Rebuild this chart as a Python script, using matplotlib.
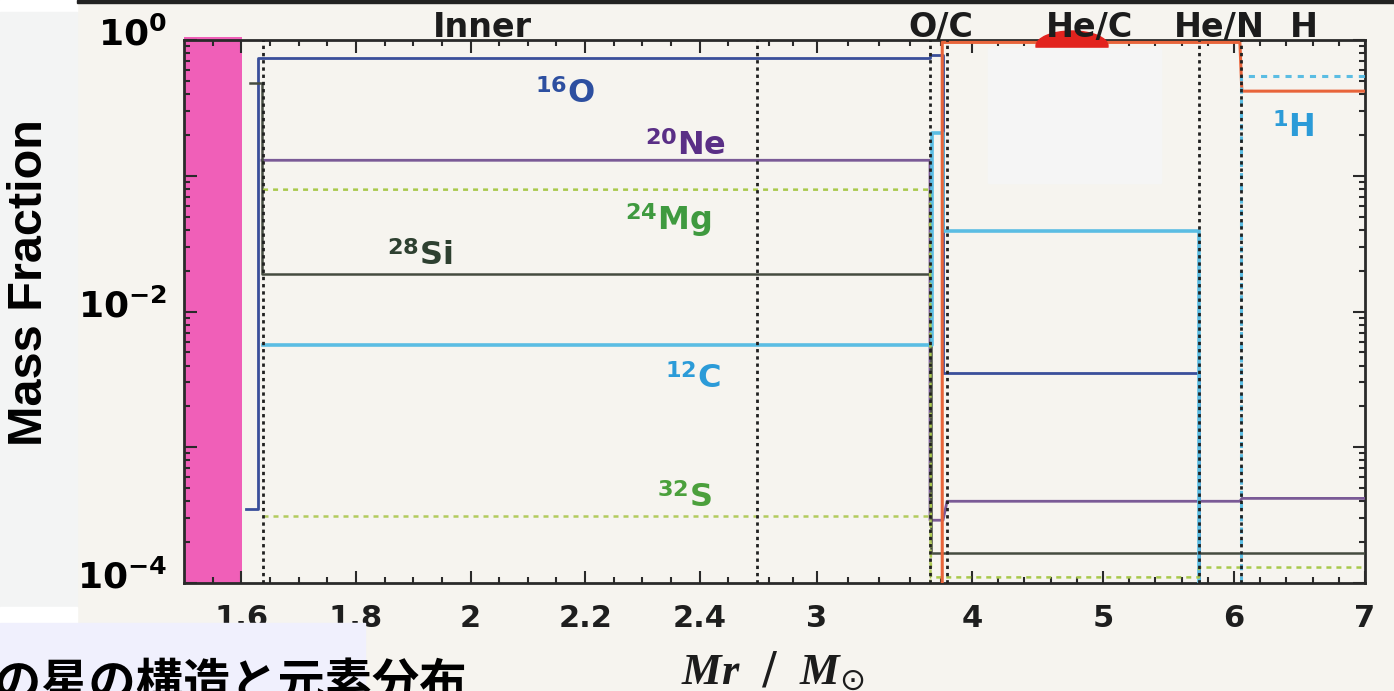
"""Mass fraction profile of a massive star (scanned slide recreation)."""

import numpy as np
import matplotlib

matplotlib.use("Agg")

import matplotlib.pyplot as plt
from matplotlib.patches import Rectangle, Ellipse
from matplotlib.transforms import blended_transform_factory, ScaledTranslation

plt.rcParams["mathtext.fontset"] = "custom"
plt.rcParams["mathtext.rm"] = "DejaVu Sans"
plt.rcParams["mathtext.bf"] = "DejaVu Sans:bold"
plt.rcParams["mathtext.it"] = "Liberation Serif:italic:bold"

# ---- data (Mr / Msun, mass fraction) ----
o16_mr = [1.608, 1.630, 1.630, 3.729, 3.729, 3.813, 3.813, 3.839, 5.733, 5.733]
o16_x = [3.5e-4, 3.5e-4, 0.74, 0.74, 0.77, 0.77, 0.0035, 0.0035, 0.0035, 1e-6]

ne20_mr = [1.636, 3.729, 3.729, 3.813, 3.839, 6.045, 6.06, 7.0]
ne20_x = [0.13, 0.13, 2.9e-4, 2.9e-4, 4.0e-4, 4.0e-4, 4.2e-4, 4.2e-4]

mg24_mr = [1.638, 3.729, 3.735, 3.839, 5.733, 5.733, 7.0]
mg24_x = [0.079, 0.079, 1.1e-4, 1.1e-4, 1.1e-4, 1.3e-4, 1.3e-4]

si28_mr = [1.615, 1.636, 1.636, 3.738, 3.738, 7.0]
si28_x = [0.48, 0.48, 0.019, 0.019, 1.66e-4, 1.66e-4]

c12_mr = [1.638, 3.745, 3.745, 3.813, 3.813, 5.733, 5.733]
c12_x = [0.0057, 0.0057, 0.206, 0.206, 0.039, 0.039, 1e-6]

s32_mr = [1.638, 3.729, 3.729]
s32_x = [3.1e-4, 3.1e-4, 1e-6]

he4_mr = [3.808, 3.808, 6.045, 6.06, 7.0]
he4_x = [1e-6, 0.96, 0.96, 0.42, 0.42]

h1_mr = [6.053, 6.053, 7.0]
h1_x = [1e-6, 0.54, 0.54]

boundaries = [1.638, 2.5, 3.729, 3.839, 5.733, 6.053]
zone_names = ["Inner", "O/C", "He/C", "He/N", "H"]
zone_pos = [2.02, 3.80, 4.90, 5.89, 6.53]

isotopes = ["16O", "20Ne", "24Mg", "28Si", "12C", "32S", "1H"]
iso_mr = [2.113, 2.305, 2.27, 1.854, 2.339, 2.325, 6.29]
iso_x = [0.343, 0.142, 0.040, 0.022, 0.00273, 3.63e-4, 0.193]
iso_colors = ["#2d4fa0", "#5a2f86", "#3f9a3f", "#2e4030", "#2b9bd8", "#4ba03c", "#2b9bd8"]

x_major = [1.6, 1.8, 2.0, 2.2, 2.4, 3, 4, 5, 6, 7]
x_labels = ["1.6", "1.8", "2", "2.2", "2.4", "3", "4", "5", "6", "7"]

# piecewise-linear Mr axis (expanded inner core, compressed envelope)
scale_mr = [1.5, 2.5, 3.0, 4.0, 7.0]
scale_pos = [0.0, 573.0, 633.0, 788.0, 1181.0]


def fwd(v):
    return np.interp(np.asarray(v, float), scale_mr, scale_pos)


def inv(p):
    return np.interp(np.asarray(p, float), scale_pos, scale_mr)


W, H = 1394, 691
BG = "#f6f4ef"


def px_box(x0, y0, x1, y1):
    return (x0 / W, 1 - y1 / H), (x1 - x0) / W, (y1 - y0) / H


fig = plt.figure(figsize=(W / 100, H / 100), dpi=100, facecolor=BG)
ax = fig.add_axes([184 / W, 1 - 583 / H, (1365 - 184) / W, (583 - 40) / H])
ax.set_facecolor(BG)
ax.set_xscale("function", functions=(fwd, inv))
ax.set_yscale("log")
ax.set_xlim(1.5, 7.0)
ax.set_ylim(1e-4, 1.0)

lw = 2.0
ax.plot(o16_mr, o16_x, color="#3a4f9a", lw=lw, zorder=3)
ax.plot(ne20_mr, ne20_x, color="#7a5a96", lw=lw, zorder=3)
ax.plot(si28_mr, si28_x, color="#454c40", lw=1.8, zorder=3)
ax.plot(c12_mr, c12_x, color="#5bbde3", lw=2.6, zorder=3)
ax.plot(mg24_mr, mg24_x, color="#a9c94c", lw=1.8, ls=(0, (2, 2)), zorder=3)
ax.plot(s32_mr, s32_x, color="#b3cb5e", lw=1.8, ls=(0, (2, 2)), zorder=3)
ax.plot(he4_mr, he4_x, color="#e8643a", lw=2.2, zorder=3)
ax.plot(h1_mr, h1_x, color="#5bbde3", lw=2.2, ls=(0, (2, 2)), zorder=3)

for b in boundaries:
    ax.axvline(b, color="#202020", lw=2.0, ls=(0, (1.2, 1.4)), zorder=3.5)

ax.axvspan(1.5, 1.601, ymin=0, ymax=1.006, color="#f052b4", alpha=0.92,
           lw=0, zorder=1, clip_on=False)

# axis styling
for s in ax.spines.values():
    s.set_color("#2a2a2a")
    s.set_linewidth(2)
ax.set_xticks(x_major, x_labels)
ax.set_xticks(list(np.arange(1.55, 2.5, 0.05)) + list(np.arange(2.6, 7.0, 0.2)), minor=True)
ax.set_yticks([1e-4, 1e-3, 1e-2, 1e-1, 1.0],
              [r"$\mathbf{10^{-4}}$", "", r"$\mathbf{10^{-2}}$", "", r"$\mathbf{10^{0}}$"])
ax.yaxis.set_minor_formatter(plt.NullFormatter())
ax.tick_params(which="both", direction="in", top=True, right=True,
               color="#2a2a2a", width=1.5)
ax.tick_params(which="major", length=9)
ax.tick_params(which="minor", length=4.5)
ax.tick_params(axis="x", which="major", pad=15, labelsize=22)
ax.tick_params(axis="y", which="major", pad=12, labelsize=26)
for t in ax.get_xticklabels():
    t.set_fontweight("bold")
    t.set_color("#1e1e1e")
lift = ScaledTranslation(0, 9 / 100, fig.dpi_scale_trans)
for t in ax.get_yticklabels():
    t.set_transform(t.get_transform() + lift)

# isotope labels
for name, mr, xv, c in zip(isotopes, iso_mr, iso_x, iso_colors):
    mass = "".join(ch for ch in name if ch.isdigit())
    sym = name[len(mass):]
    ax.text(mr, xv, r"$^{\mathbf{%s}}$" % mass + sym, color=c, fontsize=23,
            fontweight="bold", ha="left", va="baseline", zorder=6)

# zone names above the frame
top = blended_transform_factory(ax.transData, fig.transFigure)
for name, mr in zip(zone_names, zone_pos):
    ax.text(mr, 1 - 37 / H, name, transform=top, ha="center", va="baseline",
            fontsize=24, fontweight="bold", color="#1c1c1c", zorder=7, clip_on=False)

ax.set_xlabel(r"$Mr\ \ \mathit{/}\ \ M_{\odot}$", fontsize=32, color="#1c1c1c",
              va="baseline")
ax.xaxis.set_label_coords(773 / W, 1 - 684 / H, transform=fig.transFigure)

# scan artefacts: red blob and white cover patch
ax.add_patch(Ellipse((1072 / W, 1 - 46 / H), 72 / W, 30 / H, color="#e2231e",
                     transform=fig.transFigure, zorder=4, clip_on=False))
xy, w, h = px_box(988, 48, 1161, 183)
ax.add_patch(Rectangle(xy, w, h, color="#f5f5f5", transform=fig.transFigure,
                       zorder=5, clip_on=False))

# slide elements around the scan
for (x0, y0, x1, y1, c) in [(0, 0, 77, 12, "white"), (0, 12, 77, 607, "#f3f4f4"),
                            (0, 607, 77, 623, "white"), (0, 623, 365, 691, "#f0f0fd"),
                            (77, 0, 1394, 3, "#222222")]:
    xy, w, h = px_box(x0, y0, x1, y1)
    fig.patches.append(Rectangle(xy, w, h, color=c, transform=fig.transFigure,
                                 figure=fig, zorder=1))

fig.text(30 / W, 1 - 283 / H, "Mass Fraction", rotation=90, ha="center", va="center",
         fontsize=35, fontweight="bold", family="Liberation Sans", color="black")
fig.text(-6 / W, 1 - 699 / H, "の星の構造と元素分布", ha="left", va="baseline",
         fontsize=34, fontweight="bold", family=["Noto Sans CJK JP", "DejaVu Sans"],
         color="black")

fig.savefig("out.png", dpi=100, facecolor=BG)
